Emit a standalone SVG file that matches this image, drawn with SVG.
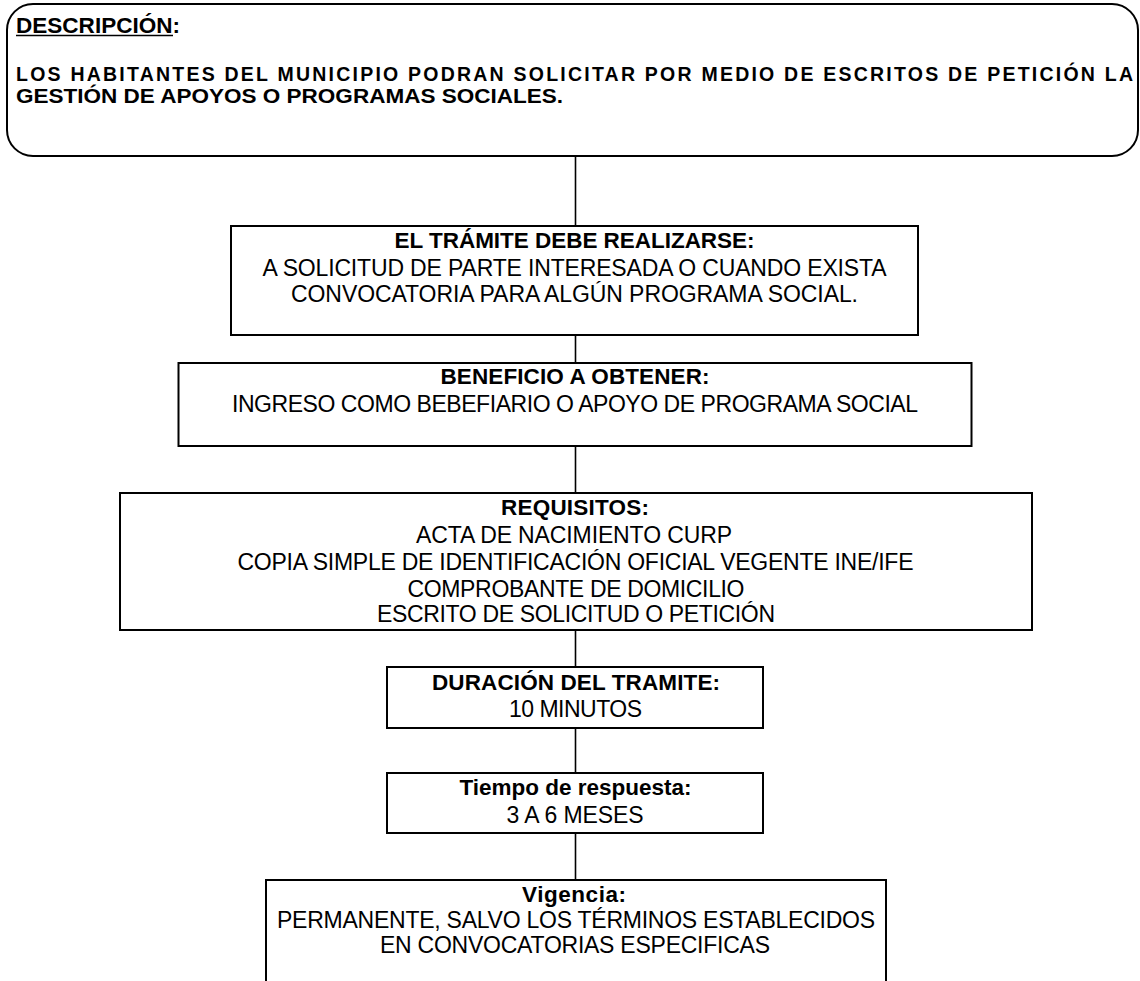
<svg xmlns="http://www.w3.org/2000/svg" width="1140" height="981" viewBox="0 0 1140 981">
<style>
.box{fill:#fff;stroke:#000;stroke-width:2}
.con{stroke:#000;stroke-width:1.6;fill:none}
text{font-family:"Liberation Sans",Arial,sans-serif;font-size:23px;fill:#000}
.b{font-weight:bold;font-size:22.5px}
.t{font-weight:bold;font-size:21.5px}
.d{font-weight:bold;font-size:19.5px}
.c{text-anchor:middle}
</style>
<rect width="1140" height="981" fill="#fff"/>
<g id="connectors">
<line class="con" x1="575.5" y1="156" x2="575.5" y2="226"/>
<line class="con" x1="575.5" y1="335" x2="575.5" y2="363"/>
<line class="con" x1="575.5" y1="446" x2="575.5" y2="493"/>
<line class="con" x1="575.5" y1="630" x2="575.5" y2="667"/>
<line class="con" x1="575.5" y1="728" x2="575.5" y2="773"/>
<line class="con" x1="575.5" y1="833" x2="575.5" y2="880"/>
</g>
<g id="descripcion">
<rect class="box" x="7" y="4" width="1131" height="152" rx="26" ry="26"/>
<text class="t" x="16" y="33" textLength="164" lengthAdjust="spacingAndGlyphs">DESCRIPCIÓN:</text>
<line x1="16" y1="35.5" x2="173" y2="35.5" stroke="#000" stroke-width="1.5"/>
<text class="d" x="16" y="80.5" textLength="1117" lengthAdjust="spacing">LOS HABITANTES DEL MUNICIPIO PODRAN SOLICITAR POR MEDIO DE ESCRITOS DE PETICIÓN LA</text>
<text class="d" x="16" y="103" textLength="547" lengthAdjust="spacingAndGlyphs">GESTIÓN DE APOYOS O PROGRAMAS SOCIALES.</text>
</g>
<g id="tramite">
<rect class="box" x="231" y="226" width="687" height="109"/>
<text class="b c" x="574.5" y="248" textLength="360" lengthAdjust="spacing">EL TRÁMITE DEBE REALIZARSE:</text>
<text class="c" x="574.5" y="276" textLength="624" lengthAdjust="spacing">A SOLICITUD DE PARTE INTERESADA O CUANDO EXISTA</text>
<text class="c" x="574.5" y="301.5" textLength="567" lengthAdjust="spacing">CONVOCATORIA PARA ALGÚN PROGRAMA SOCIAL.</text>
</g>
<g id="beneficio">
<rect class="box" x="178.5" y="363" width="793" height="83"/>
<text class="b c" x="575" y="384" textLength="269" lengthAdjust="spacing">BENEFICIO A OBTENER:</text>
<text class="c" x="575" y="412" textLength="686" lengthAdjust="spacing">INGRESO COMO BEBEFIARIO O APOYO DE PROGRAMA SOCIAL</text>
</g>
<g id="requisitos">
<rect class="box" x="120" y="493" width="912" height="137"/>
<text class="b c" x="575" y="515" textLength="148" lengthAdjust="spacing">REQUISITOS:</text>
<text class="c" x="574" y="543" textLength="316" lengthAdjust="spacing">ACTA DE NACIMIENTO CURP</text>
<text class="c" x="575.5" y="570" textLength="676" lengthAdjust="spacing">COPIA SIMPLE DE IDENTIFICACIÓN OFICIAL VEGENTE INE/IFE</text>
<text class="c" x="576" y="596.5" textLength="337" lengthAdjust="spacing">COMPROBANTE DE DOMICILIO</text>
<text class="c" x="576" y="622" textLength="398" lengthAdjust="spacing">ESCRITO DE SOLICITUD O PETICIÓN</text>
</g>
<g id="duracion">
<rect class="box" x="387" y="667" width="376" height="61"/>
<text class="b c" x="576" y="690" textLength="288" lengthAdjust="spacing">DURACIÓN DEL TRAMITE:</text>
<text class="c" x="575.5" y="717" textLength="133" lengthAdjust="spacing">10 MINUTOS</text>
</g>
<g id="tiempo">
<rect class="box" x="387" y="773" width="376" height="60"/>
<text class="b c" x="575.5" y="795" textLength="232" lengthAdjust="spacing">Tiempo de respuesta:</text>
<text class="c" x="575" y="823" textLength="137" lengthAdjust="spacing">3 A 6 MESES</text>
</g>
<g id="vigencia">
<rect class="box" x="266" y="880" width="620" height="120"/>
<text class="b c" x="574" y="902" textLength="104" lengthAdjust="spacing">Vigencia:</text>
<text class="c" x="576" y="928" textLength="598" lengthAdjust="spacing">PERMANENTE, SALVO LOS TÉRMINOS ESTABLECIDOS</text>
<text class="c" x="575" y="953" textLength="390" lengthAdjust="spacing">EN CONVOCATORIAS ESPECIFICAS</text>
</g>
</svg>
